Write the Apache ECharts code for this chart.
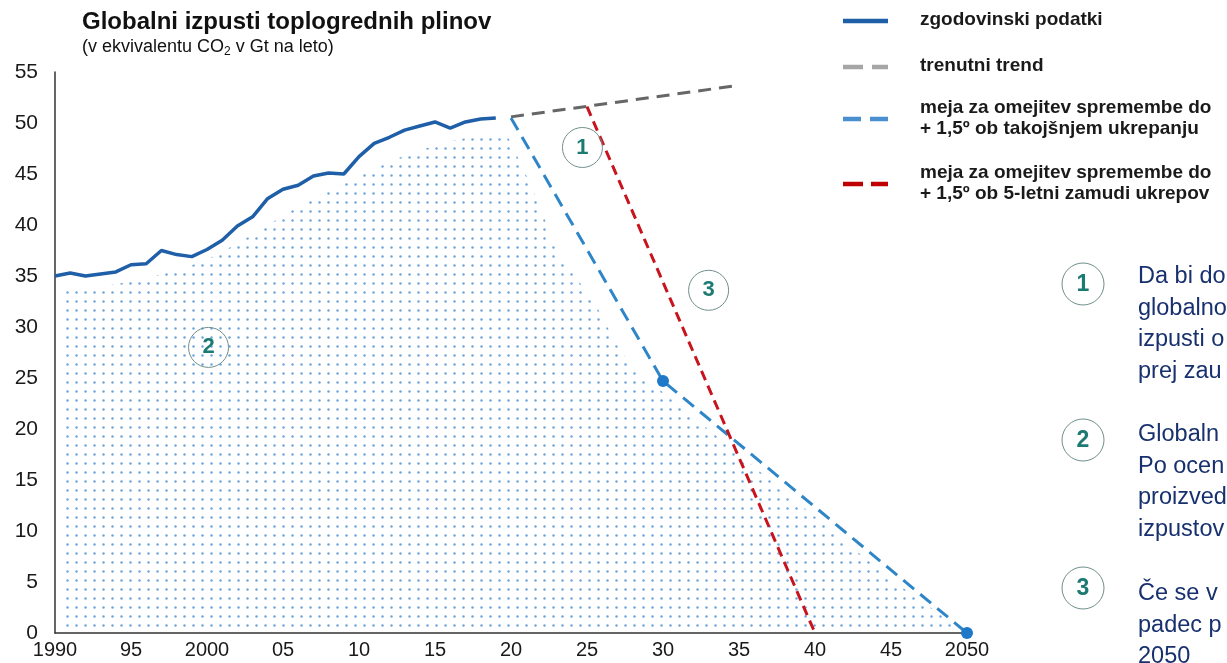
<!DOCTYPE html>
<html>
<head>
<meta charset="utf-8">
<script src="https://cdn.jsdelivr.net/npm/echarts@6/dist/echarts.min.js"></script>
<style>
  html, body { margin: 0; padding: 0; background: #fff; }
  #chart { width: 1227px; height: 663px; }
</style>
</head>
<body>
<div id="chart"></div>
<script>
// zgodovinski podatki (Gt CO2e / leto)
const histYears = [1990, 1991, 1992, 1993, 1994, 1995, 1996, 1997, 1998, 1999,
  2000, 2001, 2002, 2003, 2004, 2005, 2006, 2007, 2008, 2009,
  2010, 2011, 2012, 2013, 2014, 2015, 2016, 2017, 2018, 2019];
const histValues = [35.0, 35.3, 35.0, 35.2, 35.4, 36.1, 36.2, 37.5, 37.1, 36.9,
  37.6, 38.5, 39.9, 40.8, 42.6, 43.5, 43.9, 44.8, 45.1, 45.0,
  46.7, 48.0, 48.6, 49.3, 49.7, 50.1, 49.5, 50.1, 50.4, 50.5];

// trenutni trend
const trendYears = [2020, 2035];
const trendValues = [50.6, 53.7];

// +1,5 ob takojsnjem ukrepanju
const nowYears = [2020, 2030, 2050];
const nowValues = [50.5, 24.7, 0];

// +1,5 ob 5-letni zamudi
const delayYears = [2025, 2040];
const delayValues = [51.6, 0];

// pikcasto obmocje (ogljicni proracun)
const budgetYears = [1990.5, 1992, 1994, 1996, 1998, 2000, 2002, 2004, 2006, 2008,
  2010, 2012, 2014, 2016, 2018, 2019.5, 2020.5, 2022, 2023, 2025.4,
  2027.2, 2029, 2030, 2035, 2040, 2045, 2050];
const budgetValues = [33.8, 33.9, 34.2, 34.8, 35.6, 36.6, 38.2, 40.0, 41.8, 43.4,
  44.8, 46.2, 47.3, 48.2, 48.8, 49.0, 46.5, 41.5, 37.5, 32.6,
  27.7, 24.5, 23.6, 17.5, 11.4, 5.3, 0];

// oznake v grafu
const noteYears = [2024.7, 2000.1, 2033.0];
const noteValues = [47.6, 28.0, 33.6];
const noteLabels = ['1', '2', '3'];

const xTickLabels = ['1990', '95', '2000', '05', '10', '15', '20', '25', '30', '35', '40', '45', '2050'];

const FONT = 'Liberation Sans, Arial, sans-serif';

function pairs(xs, ys) {
  return xs.map((x, i) => [x, ys[i]]);
}

// vzorec pik za obmocje
function dotPattern() {
  const c = document.createElement('canvas');
  c.width = 9;
  c.height = 9;
  const ctx = c.getContext('2d');
  ctx.fillStyle = '#6ea6dd';
  ctx.beginPath();
  ctx.arc(4.5, 4.5, 1.25, 0, Math.PI * 2);
  ctx.fill();
  return c;
}

const chart = echarts.init(document.getElementById('chart'));

// legenda in besedilo na desni
const legendRows = [
  { y: 21, color: '#1f5fa8', dash: null, lines: ['zgodovinski podatki'] },
  { y: 67, color: '#a6a6a6', dash: [20, 9], lines: ['trenutni trend'] },
  { y: 119, color: '#4a8fd0', dash: [18, 9], lines: ['meja za omejitev spremembe do', '+ 1,5º ob takojšnjem ukrepanju'] },
  { y: 184, color: '#c00000', dash: [20, 8], lines: ['meja za omejitev spremembe do', '+ 1,5º ob 5-letni zamudi ukrepov'] }
];

const notes = [
  { y: 277, cy: 284, lines: ['Da bi do', 'globalno', 'izpusti o', 'prej zau'] },
  { y: 435, cy: 440, lines: ['Globaln', 'Po ocen', 'proizved', 'izpustov'] },
  { y: 594, cy: 588, lines: ['Če se v', 'padec p', '2050'] }
];

const graphic = [];
legendRows.forEach(r => {
  graphic.push({
    type: 'line',
    shape: { x1: 843, y1: r.y, x2: 888, y2: r.y },
    style: { stroke: r.color, lineWidth: 4.5, lineDash: r.dash }
  });
  const top = r.y - r.lines.length * 10 - (r.lines.length === 1 ? 1 : 1);
  r.lines.forEach((t, i) => {
    graphic.push({
      type: 'text',
      left: 920,
      top: top + i * 21,
      style: { text: t, font: 'bold 19px ' + FONT, fill: '#1a1a1a' }
    });
  });
});
notes.forEach((n, k) => {
  graphic.push({
    type: 'circle',
    shape: { cx: 1083, cy: n.cy, r: 21 },
    style: { fill: '#fff', stroke: '#6f8f8c', lineWidth: 1 }
  });
  graphic.push({
    type: 'text',
    x: 1083, y: n.cy + 1,
    style: { text: noteLabels[k], font: 'bold 23px ' + FONT, fill: '#1b7a72', align: 'center', verticalAlign: 'middle' }
  });
  n.lines.forEach((t, i) => {
    graphic.push({
      type: 'text',
      x: 1138, y: n.y + i * 31.5,
      style: { text: t, font: '23.5px ' + FONT, fill: '#17306e', verticalAlign: 'middle' }
    });
  });
});

const option = {
  backgroundColor: '#fff',
  animation: false,
  title: {
    text: 'Globalni izpusti toplogrednih plinov',
    subtext: '(v ekvivalentu CO{sub|2} v Gt na leto)',
    left: 77,
    top: 5,
    itemGap: 3,
    textStyle: { fontFamily: FONT, fontSize: 24, fontWeight: 'bold', color: '#111' },
    subtextStyle: {
      fontFamily: FONT, fontSize: 18, color: '#111',
      rich: { sub: { fontFamily: FONT, fontSize: 12, color: '#111', verticalAlign: 'bottom', padding: [9, 0, 0, 0] } }
    }
  },
  grid: { left: 55, right: 260, top: 72, bottom: 30, containLabel: false },
  xAxis: {
    type: 'value',
    min: 1990,
    max: 2050,
    interval: 5,
    axisLine: { show: true, lineStyle: { color: '#333', width: 1.5 } },
    axisTick: { show: false },
    splitLine: { show: false },
    axisLabel: {
      margin: 7,
      fontFamily: FONT, fontSize: 20, color: '#1a1a1a',
      formatter: v => xTickLabels[Math.round((v - 1990) / 5)]
    }
  },
  yAxis: {
    type: 'value',
    min: 0,
    max: 55,
    interval: 5,
    axisLine: { show: true, lineStyle: { color: '#333', width: 1.5 } },
    axisTick: { show: false },
    splitLine: { show: false },
    axisLabel: { margin: 17, fontFamily: FONT, fontSize: 21, color: '#1a1a1a' }
  },
  graphic: graphic,
  series: [
    {
      name: 'budget',
      type: 'line',
      data: pairs(budgetYears, budgetValues),
      smooth: 0.2,
      showSymbol: false,
      lineStyle: { width: 0 },
      areaStyle: { color: { image: dotPattern(), repeat: 'repeat' }, opacity: 1 },
      z: 1,
      silent: true
    },
    {
      name: 'zgodovinski podatki',
      type: 'line',
      data: pairs(histYears, histValues),
      showSymbol: false,
      lineStyle: { color: '#1f5fa8', width: 3.5 },
      z: 5
    },
    {
      name: 'trenutni trend',
      type: 'line',
      data: pairs(trendYears, trendValues),
      showSymbol: false,
      lineStyle: { color: '#666', width: 3, type: [13, 8] },
      z: 4
    },
    {
      name: 'takojšnje ukrepanje',
      type: 'line',
      data: nowYears.map((y, i) => i === 0
        ? { value: [y, nowValues[i]], symbol: 'none' }
        : { value: [y, nowValues[i]] }),
      symbol: 'circle',
      symbolSize: 12,
      showSymbol: true,
      itemStyle: { color: '#1f78c8' },
      lineStyle: { color: '#2e86c9', width: 3, type: [14, 8] },
      z: 4
    },
    {
      name: '5-letna zamuda',
      type: 'line',
      data: pairs(delayYears, delayValues),
      showSymbol: false,
      lineStyle: { color: '#c8141e', width: 3, type: [10, 6] },
      z: 4
    },
    {
      name: 'oznake',
      type: 'scatter',
      data: pairs(noteYears, noteValues),
      symbol: 'circle',
      symbolSize: 40,
      itemStyle: { color: 'rgba(255,255,255,0)', borderColor: '#6f8f8c', borderWidth: 1, opacity: 1 },
      label: {
        show: true,
        position: 'inside',
        formatter: p => noteLabels[p.dataIndex],
        fontFamily: FONT, fontSize: 22, fontWeight: 'bold', color: '#1b7a72'
      },
      z: 6,
      silent: true
    }
  ]
};

chart.setOption(option);
</script>
</body>
</html>
